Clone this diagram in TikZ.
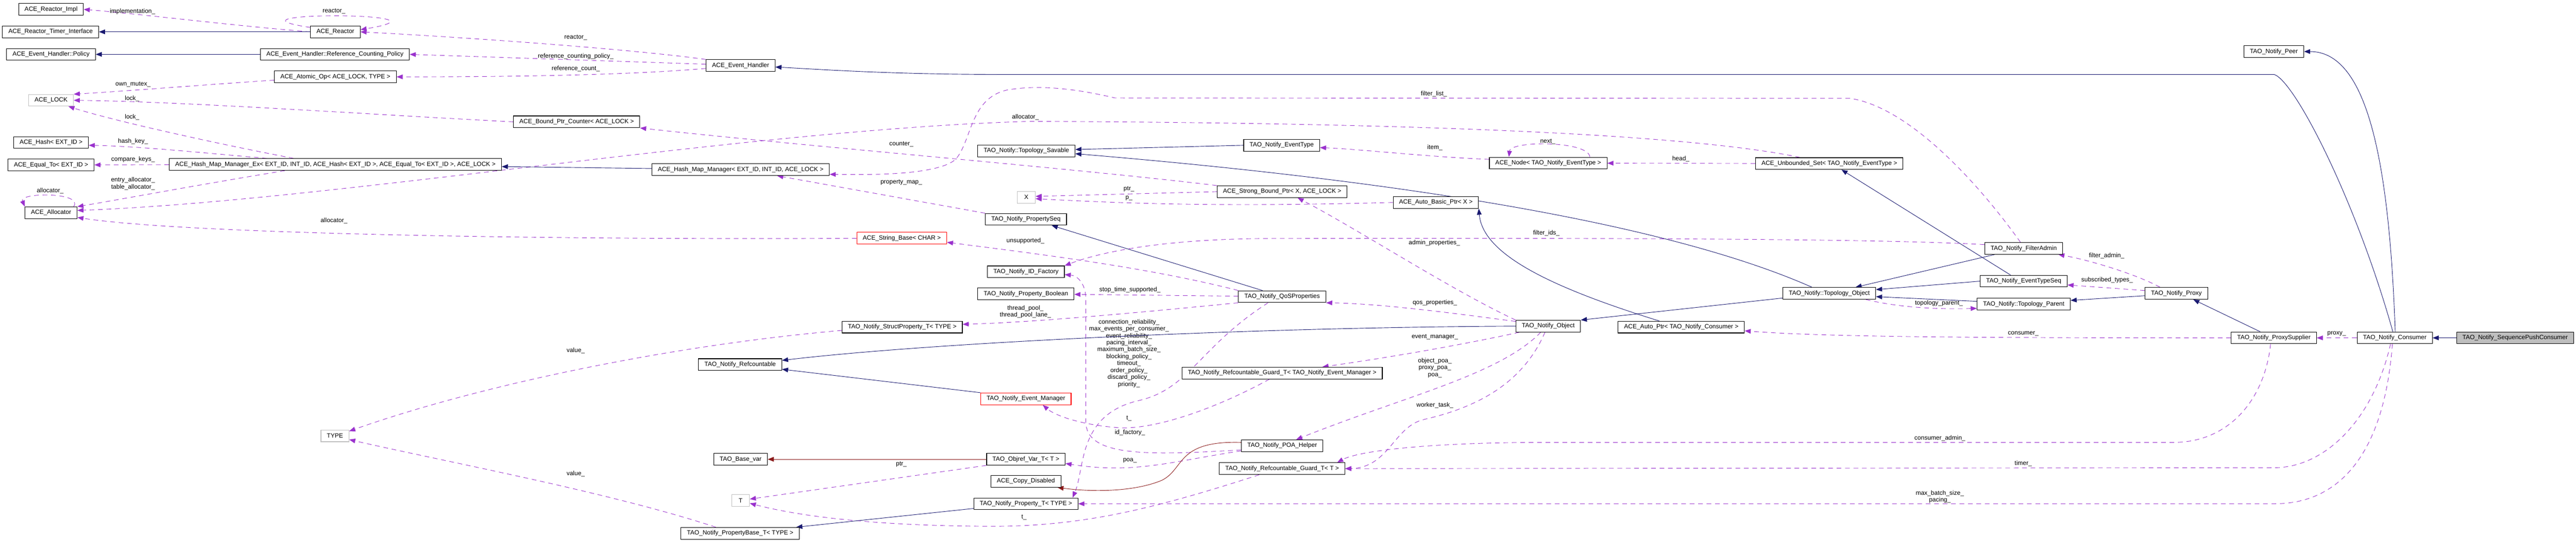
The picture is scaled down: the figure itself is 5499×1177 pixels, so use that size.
\documentclass[tikz,border=0pt]{standalone}
\usepackage{fontspec}
\setmainfont{Liberation Sans}
\usetikzlibrary{arrows.meta,calc,backgrounds}
\definecolor{inhblue}{HTML}{191970}
\definecolor{usepurple}{HTML}{9A32CD}
\definecolor{privred}{HTML}{8B1A1A}
\definecolor{extgray}{HTML}{BFBFBF}

\begin{document}
\begin{tikzpicture}[x=0.5pt, y=-0.5pt,
	cls/.style={draw, line width=0.6pt, fill=white, inner xsep=6.3pt, inner ysep=0pt, minimum height=12.5pt, font=\fontsize{6.6}{7.4}\selectfont},
	extcls/.style={cls, draw=extgray, minimum width=19pt},
	badcls/.style={cls, draw=red},
	maincls/.style={cls, fill=extgray},
	lbl/.style={font=\fontsize{6.6}{7.4}\selectfont, align=center, inner sep=0pt},
	inheritline/.style={draw=inhblue, line width=0.5pt, -{Triangle[length=6.5pt,width=5pt]}},
	privline/.style={inheritline, draw=privred},
	memberline/.style={draw=usepurple, line width=0.5pt, dash pattern=on 5pt off 4pt, -{Triangle[length=6.5pt,width=5pt]}}]
	\useasboundingbox (0,0) rectangle (5499,1177);

	\node[cls] (nReactorImpl) at (109,20) {ACE\_Reactor\_Impl};
	\node[cls] (nTimerIf) at (108,68) {ACE\_Reactor\_Timer\_Interface};
	\node[cls] (nPolicy) at (109,116) {ACE\_Event\_Handler::Policy};
	\node[extcls] (nLock) at (109,214) {ACE\_LOCK};
	\node[cls] (nHash) at (109,304) {ACE\_Hash< EXT\_ID >};
	\node[cls] (nEqual) at (109,352) {ACE\_Equal\_To< EXT\_ID >};
	\node[cls] (nAllocator) at (109,454) {ACE\_Allocator};
	\node[cls] (nReactor) at (716,68) {ACE\_Reactor};
	\node[cls] (nRCPolicy) at (715,116) {ACE\_Event\_Handler::Reference\_Counting\_Policy};
	\node[cls] (nAtomic) at (716,164) {ACE\_Atomic\_Op< ACE\_LOCK, TYPE >};
	\node[cls] (nHashMapEx) at (716,351) {ACE\_Hash\_Map\_Manager\_Ex< EXT\_ID, INT\_ID, ACE\_Hash< EXT\_ID >, ACE\_Equal\_To< EXT\_ID >, ACE\_LOCK >};
	\node[extcls] (nType) at (715,930) {TYPE};
	\node[cls] (nBoundCounter) at (1231,260) {ACE\_Bound\_Ptr\_Counter< ACE\_LOCK >};
	\node[cls] (nEventHandler) at (1581,140) {ACE\_Event\_Handler};
	\node[cls] (nHashMap) at (1581,362) {ACE\_Hash\_Map\_Manager< EXT\_ID, INT\_ID, ACE\_LOCK >};
	\node[cls] (nRefcountable) at (1580,778) {TAO\_Notify\_Refcountable};
	\node[cls] (nBaseVar) at (1581,980) {TAO\_Base\_var};
	\node[extcls] (nT) at (1581,1068) {T};
	\node[cls] (nPropBase) at (1580,1138) {TAO\_Notify\_PropertyBase\_T< TYPE >};
	\node[badcls] (nStringBase) at (1925,508) {ACE\_String\_Base< CHAR >};
	\node[cls] (nStructProp) at (1926,698) {TAO\_Notify\_StructProperty\_T< TYPE >};
	\node[cls] (nSavable) at (2191,322) {TAO\_Notify::Topology\_Savable};
	\node[extcls] (nX) at (2191,421) {X};
	\node[cls] (nPropSeq) at (2190,468) {TAO\_Notify\_PropertySeq};
	\node[cls] (nIDFactory) at (2190,580) {TAO\_Notify\_ID\_Factory};
	\node[cls] (nPropBool) at (2190,627) {TAO\_Notify\_Property\_Boolean};
	\node[badcls] (nEventMgr) at (2190,851) {TAO\_Notify\_Event\_Manager};
	\node[cls] (nObjrefVar) at (2190,980) {TAO\_Objref\_Var\_T< T >};
	\node[cls] (nCopyDis) at (2190,1027) {ACE\_Copy\_Disabled};
	\node[cls] (nPropT) at (2190,1075) {TAO\_Notify\_Property\_T< TYPE >};
	\node[cls] (nEventType) at (2736,310) {TAO\_Notify\_EventType};
	\node[cls] (nStrongPtr) at (2737,409) {ACE\_Strong\_Bound\_Ptr< X, ACE\_LOCK >};
	\node[cls] (nQoS) at (2737,633) {TAO\_Notify\_QoSProperties};
	\node[cls] (nGuardEM) at (2737,796) {TAO\_Notify\_Refcountable\_Guard\_T< TAO\_Notify\_Event\_Manager >};
	\node[cls] (nPOAHelper) at (2737,951) {TAO\_Notify\_POA\_Helper};
	\node[cls] (nGuardT) at (2737,1000) {TAO\_Notify\_Refcountable\_Guard\_T< T >};
	\node[cls] (nAutoBasic) at (3065,432) {ACE\_Auto\_Basic\_Ptr< X >};
	\node[cls] (nNode) at (3305,348) {ACE\_Node< TAO\_Notify\_EventType >};
	\node[cls] (nObject) at (3305,696) {TAO\_Notify\_Object};
	\node[cls] (nAutoPtr) at (3589,698) {ACE\_Auto\_Ptr< TAO\_Notify\_Consumer >};
	\node[cls] (nUnbSet) at (3905,349) {ACE\_Unbounded\_Set< TAO\_Notify\_EventType >};
	\node[cls] (nTopoObj) at (3905,626) {TAO\_Notify::Topology\_Object};
	\node[cls] (nFilterAdmin) at (4320,530) {TAO\_Notify\_FilterAdmin};
	\node[cls] (nEventTypeSeq) at (4320,600) {TAO\_Notify\_EventTypeSeq};
	\node[cls] (nTopoParent) at (4320,649) {TAO\_Notify::Topology\_Parent};
	\node[cls] (nProxy) at (4646,626) {TAO\_Notify\_Proxy};
	\node[cls] (nPeer) at (4854,110) {TAO\_Notify\_Peer};
	\node[cls] (nProxySupplier) at (4854,721) {TAO\_Notify\_ProxySupplier};
	\node[cls] (nConsumer) at (5112,721) {TAO\_Notify\_Consumer};
	\node[maincls] (nSeqPush) at (5369,721) {TAO\_Notify\_SequencePushConsumer};

	\begin{scope}[on background layer]
		\draw[memberline] (nReactor.west) .. controls (500,55) and (300,30) .. (nReactorImpl.east) node[lbl] (lImpl) at (283,25) {implementation\_};
		\draw[inheritline] (nReactor) -- (nTimerIf);
		\draw[memberline] (nReactor.170) .. controls (440,25) and (1000,25) .. (nReactor.5) node[lbl] (lReactorSelf) at (713,24) {reactor\_};
		\draw[memberline] (nEventHandler.north west) .. controls (1350,105) and (1000,80) .. (nReactor.east) node[lbl] (lReactor) at (1229,80) {reactor\_};
		\draw[memberline] ($(nEventHandler.west)+(0,-3)$) -- (nRCPolicy.east) node[lbl] (lRCPolicy) at (1229,120) {reference\_counting\_policy\_};
		\draw[memberline] ($(nEventHandler.west)+(0,6)$) .. controls (1350,160) and (1100,164) .. (nAtomic.east) node[lbl] (lRefCount) at (1229,147) {reference\_count\_};
		\draw[inheritline] (nRCPolicy) -- (nPolicy);
		\draw[memberline] ($(nAtomic.west)+(0,7)$) .. controls (450,180) and (260,195) .. (nLock.north east) node[lbl] (lOwnMutex) at (284,180) {own\_mutex\_};
		\draw[memberline] (nBoundCounter.west) .. controls (800,245) and (400,217) .. (nLock.east) node[lbl] (lLockA) at (282,210) {lock\_};
		\draw[memberline] ($(nHashMapEx.north)+(-89,0)$) .. controls (480,310) and (250,260) .. ($(nLock.south)+(37,0)$) node[lbl] (lLockB) at (282,250) {lock\_};
		\draw[memberline] ($(nHashMapEx.north)+(-146,0)$) .. controls (450,328) and (300,312) .. ($(nHash.east)+(0,6)$) node[lbl] (lHashKey) at (284,302) {hash\_key\_};
		\draw[memberline] (nHashMapEx) -- (nEqual) node[lbl] (lCompareKeys) at (284,340) {compare\_keys\_};
		\draw[memberline] ($(nHashMapEx.south)+(-108,0)$) .. controls (420,395) and (260,425) .. (nAllocator.north east) node[lbl] (lEntryAlloc) at (284,392) {entry\_allocator\_\\table\_allocator\_};
		\draw[memberline] ($(nAllocator.north east)+(-8,0)$) .. controls (180,410) and (40,410) .. (nAllocator.north west) node[lbl] (lAllocSelf) at (107,407) {allocator\_};
		\draw[memberline] (nUnbSet) .. controls (3600,285) and (3000,262) .. (2200,259) .. controls (1600,275) and (700,430) .. ($(nAllocator.east)+(0,-5)$) node[lbl] (lAllocUnb) at (2189,250) {allocator\_};
		\draw[memberline] (nStringBase) .. controls (1200,512) and (400,500) .. ($(nAllocator.east)+(0,10)$) node[lbl] (lAllocStr) at (713,471) {allocator\_};
		\draw[inheritline] (nHashMap) -- (nHashMapEx);
		\draw[memberline] (nPropSeq.north west) -- ($(nHashMap.south)+(78,0)$) node[lbl] (lPropMap) at (1924,389) {property\_map\_};
		\draw[memberline] (nStrongPtr.north west) .. controls (2300,360) and (1700,310) .. (nBoundCounter.south east) node[lbl] (lCounter) at (1924,308) {counter\_};
		\draw[memberline] (nStrongPtr.west) -- ($(nX.east)+(0,-2)$) node[lbl] (lPtrX) at (2410,403) {ptr\_};
		\draw[memberline] (nAutoBasic.west) .. controls (2600,442) and (2400,434) .. ($(nX.east)+(0,3)$) node[lbl] (lPX) at (2410,423) {p\_};
		\draw[inheritline] (nEventType.west) -- ($(nSavable.east)+(0,-3)$);
		\draw[inheritline] ($(nTopoObj.north)+(-37,0)$) .. controls (3500,450) and (2800,370) .. ($(nSavable.east)+(0,6)$);
		\draw[memberline] ($(nNode.west)+(0,-8)$) .. controls (3050,335) and (2900,318) .. ($(nEventType.east)+(0,5)$) node[lbl] (lItem) at (3063,315) {item\_};
		\draw[memberline] ($(nNode.north)+(89,0)$) .. controls (3390,300) and (3225,300) .. ($(nNode.north)+(-84,0)$) node[lbl] (lNext) at (3304,302) {next\_};
		\draw[memberline] (nUnbSet) -- (nNode) node[lbl] (lHead) at (3588,339) {head\_};
		\draw[inheritline] ($(nQoS.north)+(-42,0)$) -- ($(nPropSeq.south)+(55,0)$);
		\draw[memberline] (nQoS) -- (nPropBool) node[lbl] (lStopTime) at (2412,619) {stop\_time\_supported\_};
		\draw[memberline] (nQoS.north west) .. controls (2450,570) and (2200,540) .. ($(nStringBase.east)+(0,9)$) node[lbl] (lUnsupported) at (2189,514) {unsupported\_};
		\draw[memberline] ($(nFilterAdmin.west)+(0,-8)$) .. controls (4000,508) and (3300,508) .. (2700,509) .. controls (2450,511) and (2330,545) .. (nIDFactory.north east) node[lbl] (lFilterIds) at (3301,498) {filter\_ids\_};
		\draw[memberline] (nQoS.south west) .. controls (2400,670) and (2200,688) .. ($(nStructProp.east)+(0,-6)$) node[lbl] (lThreadPool) at (2189,665) {thread\_pool\_\\thread\_pool\_lane\_};
		\draw[memberline] ($(nQoS.south)+(-30,0)$) .. controls (2560,740) and (2540,830) .. (2430,855) .. controls (2300,885) and (2316,1000) .. ($(nPropT.north east)+(-12,0)$) node[lbl] (lQosMembers) at (2410,754) {connection\_reliability\_\\max\_events\_per\_consumer\_\\event\_reliability\_\\pacing\_interval\_\\maximum\_batch\_size\_\\blocking\_policy\_\\timeout\_\\order\_policy\_\\discard\_policy\_\\priority\_};
		\draw[memberline] ($(nPOAHelper.west)+(0,9)$) .. controls (2450,972) and (2318,975) .. (2318,900) -- (2318,640) .. controls (2318,605) and (2300,588) .. ($(nIDFactory.east)+(0,6)$) node[lbl] (lIdFactory) at (2412,923) {id\_factory\_};
		\draw[memberline] ($(nPOAHelper.west)+(0,11)$) .. controls (2500,985) and (2420,1012) .. ($(nObjrefVar.east)+(0,9)$) node[lbl] (lPoa) at (2412,983) {poa\_};
		\draw[privline] ($(nPOAHelper.west)+(0,-7)$) .. controls (2510,940) and (2530,1000) .. (2480,1025) .. controls (2420,1050) and (2330,1050) .. ($(nCopyDis.south east)+(-8,0)$);
		\draw[privline] (nObjrefVar) -- (nBaseVar);
		\draw[memberline] (nObjrefVar.south west) -- ($(nT.east)+(0,-3)$) node[lbl] (lPtrT) at (1924,991) {ptr\_};
		\draw[memberline] ($(nGuardT.south)+(-49,0)$) .. controls (2450,1090) and (2300,1125) .. (2100,1123) .. controls (1850,1121) and (1700,1100) .. ($(nT.east)+(0,6)$) node[lbl] (lTGuard) at (2186,1104) {t\_};
		\draw[memberline] ($(nGuardEM.south)+(-27,0)$) .. controls (2580,880) and (2450,920) .. (2380,912) .. controls (2300,905) and (2250,885) .. ($(nEventMgr.south)+(36,0)$) node[lbl] (lTEventMgr) at (2410,893) {t\_};
		\draw[inheritline] ($(nPropT.west)+(0,10)$) -- ($(nPropBase.north east)+(-7,0)$);
		\draw[memberline] ($(nPropBase.north)+(-52,0)$) .. controls (1300,1050) and (950,985) .. ($(nType.east)+(0,8)$) node[lbl] (lValueBase) at (1229,1011) {value\_};
		\draw[memberline] ($(nStructProp.west)+(0,7)$) .. controls (1400,740) and (1000,830) .. ($(nType.east)+(0,-10)$) node[lbl] (lValueStruct) at (1229,748) {value\_};
		\draw[inheritline] (nEventMgr.north west) -- ($(nRefcountable.east)+(0,10)$);
		\draw[inheritline] (nObject.west) .. controls (2700,698) and (2000,730) .. ($(nRefcountable.east)+(0,-9)$);
		\draw[memberline] (nObject.north west) .. controls (3100,620) and (2900,490) .. ($(nStrongPtr.south)+(33,0)$) node[lbl] (lAdminProps) at (3062,518) {admin\_properties\_};
		\draw[memberline] ($(nObject.north west)+(0,3)$) .. controls (3100,668) and (2950,648) .. (nQoS.south east) node[lbl] (lQosProps) at (3063,646) {qos\_properties\_};
		\draw[memberline] ($(nObject.south west)+(8,0)$) .. controls (3100,740) and (2950,765) .. ($(nGuardEM.north)+(86,0)$) node[lbl] (lEventMgr) at (3063,719) {event\_manager\_};
		\draw[memberline] ($(nObject.south)+(-16,0)$) .. controls (3200,800) and (3000,845) .. ($(nPOAHelper.north)+(30,0)$) node[lbl] (lPoaMembers) at (3063,785) {object\_poa\_\\proxy\_poa\_\\poa\_};
		\draw[memberline] ($(nObject.south)+(-7,0)$) .. controls (3250,820) and (3150,870) .. (3040,895) .. controls (2975,910) and (2965,998) .. (nGuardT.east) node[lbl] (lWorkerTask) at (3063,865) {worker\_task\_};
		\draw[inheritline] ($(nTopoObj.west)+(0,10)$) -- (nObject.north east);
		\draw[inheritline] ($(nAutoPtr.north)+(-47,0)$) .. controls (3300,610) and (3165,540) .. (nAutoBasic.south east);
		\draw[inheritline] ($(nFilterAdmin.south west)+(22,0)$) -- ($(nTopoObj.north)+(56,0)$);
		\draw[inheritline] (nEventTypeSeq.west) -- ($(nTopoObj.east)+(0,-8)$);
		\draw[inheritline] ($(nEventTypeSeq.north)+(-28,0)$) -- ($(nUnbSet.south)+(26,0)$);
		\draw[inheritline] ($(nTopoParent.west)+(0,-6)$) -- ($(nTopoObj.east)+(0,7)$);
		\draw[memberline] ($(nTopoObj.south)+(78,0)$) .. controls (4060,658) and (4150,660) .. ($(nTopoParent.west)+(0,9)$) node[lbl] (lTopoParent) at (4139,647) {topology\_parent\_};
		\draw[memberline] ($(nProxy.north)+(-35,0)$) .. controls (4560,585) and (4460,555) .. ($(nFilterAdmin.south east)+(-10,0)$) node[lbl] (lFilterAdmin) at (4497,546) {filter\_admin\_};
		\draw[memberline] ($(nProxy.west)+(0,-6)$) -- ($(nEventTypeSeq.east)+(0,8)$) node[lbl] (lSubscribed) at (4498,598) {subscribed\_types\_};
		\draw[inheritline] ($(nProxy.west)+(0,5)$) -- ($(nTopoParent.east)+(0,-8)$);
		\draw[inheritline] ($(nProxySupplier.north)+(-29,0)$) -- ($(nProxy.south)+(36,0)$);
		\draw[memberline] (nProxySupplier) .. controls (4200,721) and (3900,719) .. ($(nAutoPtr.east)+(0,8)$) node[lbl] (lConsumer) at (4319,712) {consumer\_};
		\draw[memberline] (nConsumer) -- (nProxySupplier) node[lbl] (lProxy) at (4988,712) {proxy\_};
		\draw[inheritline] (nSeqPush) -- (nConsumer);
		\draw[inheritline] ($(nConsumer.north)+(1,0)$) .. controls (5100,330) and (5050,110) .. (nPeer.east);
		\draw[inheritline] ($(nConsumer.north)+(-4,0)$) .. controls (5030,430) and (4900,175) .. (4855,159) -- (2150,159) .. controls (1900,159) and (1750,148) .. ($(nEventHandler.east)+(0,3)$);
		\draw[memberline] ($(nProxySupplier.south)+(-7,0)$) .. controls (4835,850) and (4760,944) .. (4640,944) -- (3300,944) .. controls (3050,944) and (2900,962) .. ($(nGuardT.north east)+(-17,0)$) node[lbl] (lConsumerAdmin) at (4141,935) {consumer\_admin\_};
		\draw[memberline] ($(nConsumer.south)+(-9,0)$) .. controls (5065,900) and (4960,998) .. (4855,998) -- (nGuardT.east) node[lbl] (lTimer) at (4319,989) {timer\_};
		\draw[memberline] ($(nConsumer.south)+(-5,0)$) .. controls (5090,960) and (5000,1075) .. (4855,1075) -- (nPropT.east) node[lbl] (lBatch) at (4141,1060) {max\_batch\_size\_\\pacing\_};
		\draw[memberline] ($(nFilterAdmin.north)+(-7,0)$) .. controls (4230,400) and (4080,230) .. (3950,210) -- (2380,209) .. controls (2300,190) and (2220,180) .. (2150,192) .. controls (2070,210) and (2075,300) .. (2040,340) .. controls (2000,375) and (1850,373) .. ($(nHashMap.east)+(0,10)$) node[lbl] (lFilterList) at (3061,200) {filter\_list\_};
	\end{scope}
\end{tikzpicture}
\end{document}
